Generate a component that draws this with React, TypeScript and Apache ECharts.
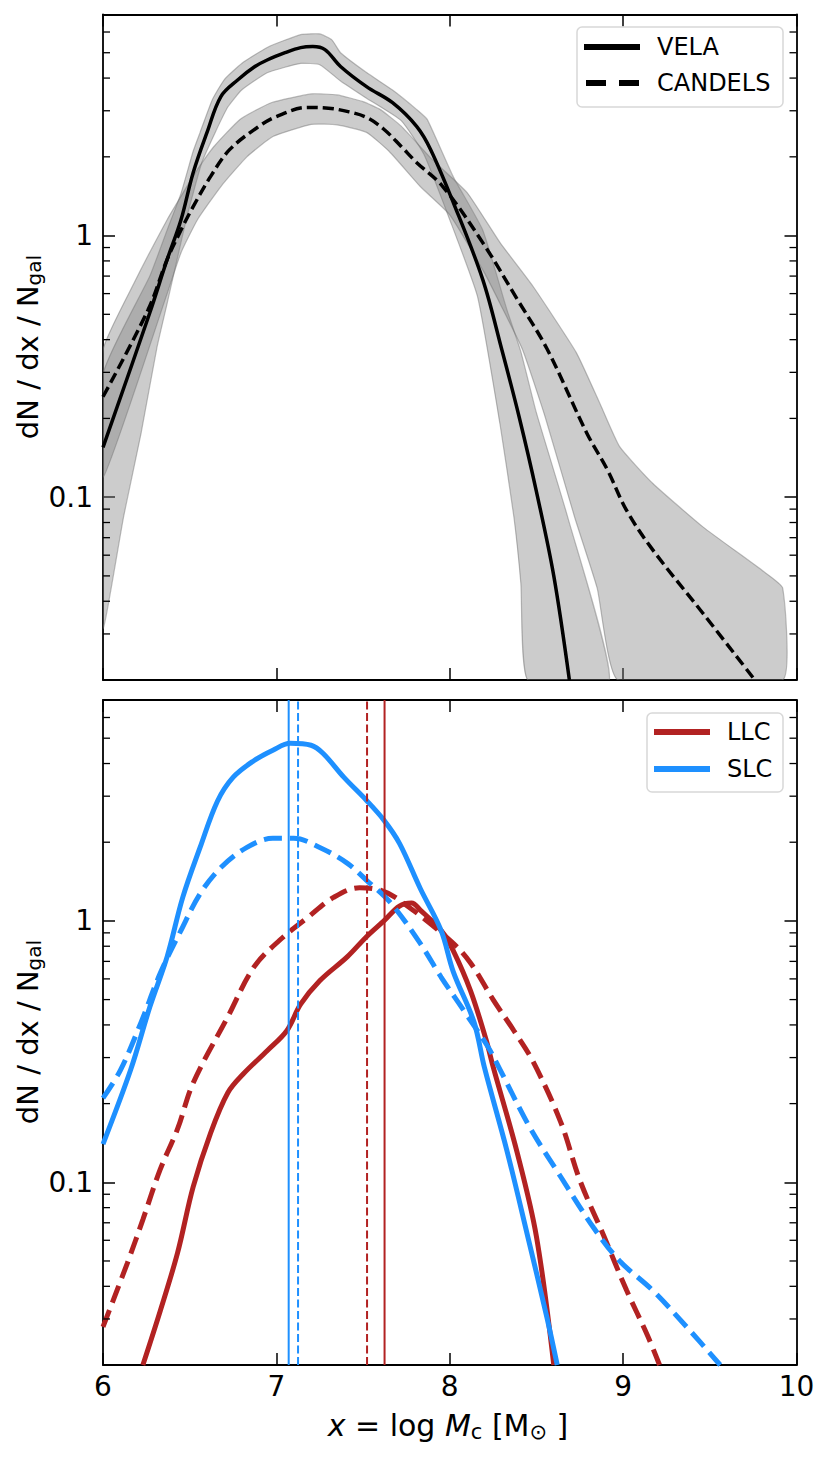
import React, { useEffect, useRef } from "react";
import * as echarts from "echarts";

type P = [number, number];

// ---------- data ----------
const X_TICKS = [6, 7, 8, 9, 10];
const Y_MINOR = [0.03, 0.04, 0.05, 0.06, 0.07, 0.08, 0.09, 0.2, 0.3, 0.4, 0.5, 0.6, 0.7, 0.8, 0.9, 2, 3, 4, 5, 6];

const VELA: P[] = [
  [6.0, 0.155], [6.27, 0.507], [6.37, 0.81], [6.45, 1.15], [6.52, 1.74], [6.6, 2.48], [6.68, 3.4],
  [6.78, 3.95], [6.87, 4.4], [6.95, 4.7], [7.05, 5.0], [7.14, 5.23], [7.21, 5.28], [7.28, 5.14],
  [7.37, 4.43], [7.52, 3.71], [7.67, 3.22], [7.81, 2.61], [7.89, 2.13], [8.02, 1.34], [8.19, 0.68],
  [8.3, 0.367], [8.4, 0.203], [8.5, 0.105], [8.6, 0.05], [8.69, 0.02],
];
const VELA_UP: P[] = [
  [6.0, 0.294], [6.27, 0.7], [6.37, 1.05], [6.45, 1.45], [6.52, 2.1], [6.56, 2.48], [6.63, 3.3],
  [6.7, 3.95], [6.8, 4.55], [6.95, 5.25], [7.14, 5.86], [7.25, 5.9], [7.32, 5.6], [7.37, 5.0],
  [7.52, 4.2], [7.67, 3.6], [7.81, 3.03], [7.87, 2.78], [8.02, 1.68], [8.19, 1.05], [8.33, 0.52],
  [8.41, 0.36], [8.5, 0.21], [8.68, 0.084], [8.92, 0.02],
];
const VELA_LO: P[] = [
  [6.0, 0.0316], [6.12, 0.085], [6.22, 0.176], [6.31, 0.37], [6.37, 0.55], [6.48, 1.15], [6.57, 1.9],
  [6.65, 2.5], [6.72, 3.1], [6.8, 3.6], [6.95, 4.2], [7.14, 4.55], [7.25, 4.5], [7.37, 3.9],
  [7.52, 3.35], [7.72, 2.75], [7.85, 2.05], [8.0, 1.15], [8.16, 0.585], [8.29, 0.19], [8.37, 0.084],
  [8.41, 0.047], [8.45, 0.02],
];
const CANDELS: P[] = [
  [6.0, 0.242], [6.26, 0.52], [6.37, 0.81], [6.45, 1.05], [6.52, 1.29], [6.62, 1.68], [6.73, 2.13],
  [6.89, 2.59], [7.0, 2.85], [7.18, 3.09], [7.3, 3.07], [7.42, 2.97], [7.52, 2.83], [7.62, 2.55],
  [7.72, 2.19], [7.81, 1.9], [7.96, 1.54], [8.19, 0.94], [8.39, 0.57], [8.56, 0.37], [8.79, 0.176],
  [8.91, 0.127], [9.02, 0.089], [9.17, 0.063], [9.46, 0.036], [9.76, 0.02],
];
const CANDELS_UP: P[] = [
  [6.0, 0.366], [6.18, 0.66], [6.37, 1.15], [6.46, 1.45], [6.545, 1.79], [6.64, 2.19], [6.79, 2.78],
  [6.97, 3.22], [7.2, 3.48], [7.35, 3.45], [7.5, 3.25], [7.6, 3.03], [7.72, 2.62], [7.9, 1.95],
  [8.1, 1.46], [8.29, 0.94], [8.48, 0.64], [8.73, 0.357], [8.87, 0.225], [8.98, 0.156], [9.17, 0.113],
  [9.46, 0.077], [9.81, 0.052], [9.92, 0.045], [9.92, 0.02],
];
const CANDELS_LO: P[] = [
  [6.0, 0.119], [6.37, 0.6], [6.45, 0.86], [6.545, 1.15], [6.68, 1.54], [6.83, 2.0], [6.98, 2.39],
  [7.2, 2.66], [7.35, 2.65], [7.52, 2.48], [7.65, 2.1], [7.83, 1.54], [8.0, 1.2], [8.2, 0.72],
  [8.29, 0.55], [8.42, 0.366], [8.55, 0.203], [8.72, 0.084], [8.85, 0.045], [8.97, 0.02],
];

const SLC: P[] = [
  [6.0, 0.14], [6.16, 0.27], [6.27, 0.468], [6.37, 0.73], [6.46, 1.23], [6.56, 1.91], [6.66, 2.87],
  [6.75, 3.54], [6.87, 4.1], [6.98, 4.5], [7.08, 4.78], [7.2, 4.7], [7.27, 4.37], [7.39, 3.54],
  [7.52, 2.89], [7.62, 2.43], [7.71, 1.98], [7.83, 1.33], [7.95, 0.92], [8.02, 0.64], [8.14, 0.41],
  [8.2, 0.275], [8.33, 0.132], [8.45, 0.062], [8.56, 0.0305], [8.62, 0.02],
];
const SLC_CANDELS: P[] = [
  [6.0, 0.21], [6.1, 0.268], [6.22, 0.41], [6.33, 0.63], [6.45, 0.92], [6.56, 1.27], [6.68, 1.6],
  [6.83, 1.91], [6.98, 2.07], [7.1, 2.07], [7.25, 1.91], [7.41, 1.66], [7.52, 1.43], [7.66, 1.17],
  [7.83, 0.82], [7.95, 0.61], [8.08, 0.455], [8.22, 0.33], [8.29, 0.27], [8.46, 0.163], [8.64, 0.105],
  [8.83, 0.067], [8.98, 0.05], [9.17, 0.0386], [9.37, 0.0278], [9.56, 0.02],
];
const LLC: P[] = [
  [6.23, 0.02], [6.33, 0.0322], [6.43, 0.0537], [6.52, 0.096], [6.62, 0.154], [6.72, 0.22],
  [6.81, 0.26], [6.95, 0.32], [7.06, 0.38], [7.14, 0.48], [7.25, 0.59], [7.41, 0.73], [7.52, 0.87],
  [7.62, 1.0], [7.71, 1.14], [7.78, 1.17], [7.83, 1.1], [7.95, 0.92], [8.02, 0.77], [8.12, 0.54],
  [8.21, 0.35], [8.25, 0.277], [8.39, 0.129], [8.5, 0.062], [8.6, 0.02],
];
const LLC_CANDELS: P[] = [
  [6.0, 0.028], [6.14, 0.049], [6.23, 0.072], [6.33, 0.112], [6.43, 0.16], [6.52, 0.24],
  [6.72, 0.43], [6.87, 0.665], [7.02, 0.845], [7.18, 1.03], [7.33, 1.23], [7.48, 1.34], [7.6, 1.31],
  [7.71, 1.2], [8.0, 0.845], [8.12, 0.69], [8.25, 0.5], [8.37, 0.38], [8.48, 0.29], [8.64, 0.17],
  [8.75, 0.102], [8.89, 0.062], [9.02, 0.0386], [9.14, 0.026], [9.21, 0.02],
];

// medians (vertical lines)
const MED_SLC = 7.071;
const MED_SLC_CANDELS = 7.125;
const MED_LLC_CANDELS = 7.523;
const MED_LLC = 7.624;

const Y_MIN = 0.02;
const Y_MAX = 7;

// ---------- styles ----------
const FONT = "DejaVu Sans";
const RED = "#b22222";
const BLUE = "#1e90ff";
const GRIDS = [
  { left: 103, top: 14.5, width: 693.5, height: 665.5 },
  { left: 103, top: 700, width: 693.5, height: 665 },
];

const axisLine = { show: true, onZero: false, lineStyle: { color: "#000", width: 1.8 } };
const majorTick = { show: true, inside: true, length: 12, lineStyle: { color: "#000", width: 1.5 } };

function xAxes(gridIndex: number, labels: boolean) {
  const base = {
    type: "value",
    gridIndex,
    min: X_TICKS[0],
    max: X_TICKS[X_TICKS.length - 1],
    interval: 1,
    axisLine,
    axisTick: majorTick,
    splitLine: { show: false },
  };
  return [
    {
      ...base,
      position: "bottom",
      axisLabel: { show: labels, margin: 7, color: "#000", fontSize: 28, fontFamily: FONT },
    },
    { ...base, position: "top", axisLabel: { show: false } },
  ];
}

function yAxes(gridIndex: number) {
  const base = {
    type: "log",
    logBase: 10,
    gridIndex,
    min: Y_MIN,
    max: Y_MAX,
    axisLine,
    axisTick: majorTick,
    minorTick: { show: false },
    splitLine: { show: false },
  };
  return [
    {
      ...base,
      position: "left",
      axisLabel: {
        show: true,
        showMinLabel: false,
        showMaxLabel: false,
        margin: 10,
        color: "#000",
        fontSize: 28,
        fontFamily: FONT,
        formatter: (v: number) => String(parseFloat(v.toPrecision(6))),
      },
    },
    { ...base, position: "right", axisLabel: { show: false } },
  ];
}

function minorTicks(axisIndex: number) {
  return {
    type: "custom",
    xAxisIndex: axisIndex,
    yAxisIndex: axisIndex,
    data: Y_MINOR.map((v) => [X_TICKS[0], v]),
    silent: true,
    z: 6,
    renderItem: (params: any, api: any) => {
      const cs = params.coordSys;
      const y = api.coord([X_TICKS[0], api.value(1)])[1];
      const st = { stroke: "#000", lineWidth: 1.3 };
      return {
        type: "group",
        children: [
          { type: "line", shape: { x1: cs.x, y1: y, x2: cs.x + 7, y2: y }, style: st },
          { type: "line", shape: { x1: cs.x + cs.width - 7, y1: y, x2: cs.x + cs.width, y2: y }, style: st },
        ],
      };
    },
  };
}

function band(upper: P[], lower: P[], axisIndex: number) {
  const poly: P[] = [...upper, ...lower.slice().reverse()];
  return {
    type: "custom",
    xAxisIndex: axisIndex,
    yAxisIndex: axisIndex,
    data: poly,
    clip: true,
    silent: true,
    z: 1,
    renderItem: (params: any, api: any) => {
      if (params.dataIndex !== 0) return null;
      const pts = poly.map((p) => api.coord(p));
      return {
        type: "polygon",
        shape: { points: pts, smooth: 0.15 },
        style: { fill: "rgba(128,128,128,0.4)", stroke: "rgba(110,110,110,0.45)", lineWidth: 1.2 },
      };
    },
  };
}

function curve(data: P[], axisIndex: number, color: string, width: number, dash?: number[]) {
  return {
    type: "line",
    xAxisIndex: axisIndex,
    yAxisIndex: axisIndex,
    data,
    symbol: "none",
    showSymbol: false,
    smooth: 0.35,
    clip: true,
    silent: true,
    z: 3,
    lineStyle: { color, width, type: dash ? dash : "solid", cap: "butt" },
  };
}

function vline(x: number, color: string, dashed: boolean) {
  return {
    type: "line",
    xAxisIndex: 2,
    yAxisIndex: 2,
    data: [
      [x, Y_MIN],
      [x, Y_MAX],
    ],
    symbol: "none",
    silent: true,
    z: 4,
    lineStyle: { color, width: 2, type: dashed ? [8, 3.5] : "solid", cap: "butt" },
  };
}

function legendBox(x: number, y: number, w: number, h: number) {
  return {
    type: "rect",
    z: 100,
    shape: { x, y, width: w, height: h, r: 5 },
    style: { fill: "rgba(255,255,255,0.85)", stroke: "#d8d8d8", lineWidth: 1.5 },
  };
}
function legendLine(x1: number, x2: number, y: number, color: string, dash?: number[]) {
  return {
    type: "line",
    z: 101,
    shape: { x1, y1: y, x2, y2: y },
    style: { stroke: color, lineWidth: 6, lineDash: dash || null, lineCap: "butt" },
  };
}
function legendText(x: number, y: number, text: string) {
  return {
    type: "text",
    z: 101,
    x,
    y,
    style: { text, fontSize: 24, fontFamily: FONT, fill: "#000", align: "left", verticalAlign: "middle" },
  };
}
function yLabel(cy: number) {
  return {
    type: "text",
    z: 50,
    x: 28,
    y: cy,
    rotation: Math.PI / 2,
    style: {
      text: "{m|dN / dx / N}{s|gal}",
      align: "center",
      verticalAlign: "middle",
      fill: "#000",
      fontFamily: FONT,
      rich: {
        m: { fontSize: 29, fontFamily: FONT, fill: "#000", lineHeight: 32 },
        s: { fontSize: 20, fontFamily: FONT, fill: "#000", lineHeight: 16, verticalAlign: "bottom" },
      },
    },
  };
}

export default function App() {
  const ref = useRef<HTMLDivElement>(null);
  useEffect(() => {
    if (!ref.current) return;
    const chart = echarts.init(ref.current, undefined, { renderer: "svg" });
    const option: any = {
      animation: false,
      backgroundColor: "#fff",
      grid: GRIDS,
      xAxis: [...xAxes(0, false), ...xAxes(1, true)],
      yAxis: [...yAxes(0), ...yAxes(1)],
      series: [
        band(VELA_UP, VELA_LO, 0),
        band(CANDELS_UP, CANDELS_LO, 0),
        curve(VELA, 0, "#000", 3.5),
        curve(CANDELS, 0, "#000", 3.5, [11, 5]),
        minorTicks(0),
        curve(LLC, 2, RED, 5),
        curve(LLC_CANDELS, 2, RED, 5, [18, 8]),
        curve(SLC, 2, BLUE, 5),
        curve(SLC_CANDELS, 2, BLUE, 5, [18, 8]),
        vline(MED_SLC, BLUE, false),
        vline(MED_SLC_CANDELS, BLUE, true),
        vline(MED_LLC_CANDELS, RED, true),
        vline(MED_LLC, RED, false),
        minorTicks(2),
      ],
      graphic: [
        legendBox(577, 27, 206, 80),
        legendLine(584, 640, 47, "#000"),
        legendLine(586, 640, 83, "#000", [20, 13]),
        legendText(657, 47, "VELA"),
        legendText(657, 83, "CANDELS"),
        legendBox(647, 713, 136, 79),
        legendLine(654, 710, 732, RED),
        legendLine(654, 710, 769, BLUE),
        legendText(727, 732, "LLC"),
        legendText(727, 769, "SLC"),
        yLabel(347),
        yLabel(1032),
        {
          type: "text",
          z: 50,
          x: 448,
          y: 1425,
          style: {
            text: "{i|x} = log {i|M}{s|c} [M{s|⊙} ]",
            align: "center",
            verticalAlign: "middle",
            fill: "#000",
            fontSize: 30,
            fontFamily: FONT,
            rich: {
              i: { fontSize: 30, fontFamily: FONT, fontStyle: "italic", fill: "#000", lineHeight: 34 },
              s: { fontSize: 21, fontFamily: FONT, fill: "#000", lineHeight: 17, verticalAlign: "bottom" },
            },
          },
        },
      ],
    };
    chart.setOption(option);
    return () => chart.dispose();
  }, []);
  return (
    <div
      ref={ref}
      style={{ position: "absolute", left: 0, top: 0, width: 831, height: 1459, background: "#fff" }}
    />
  );
}
